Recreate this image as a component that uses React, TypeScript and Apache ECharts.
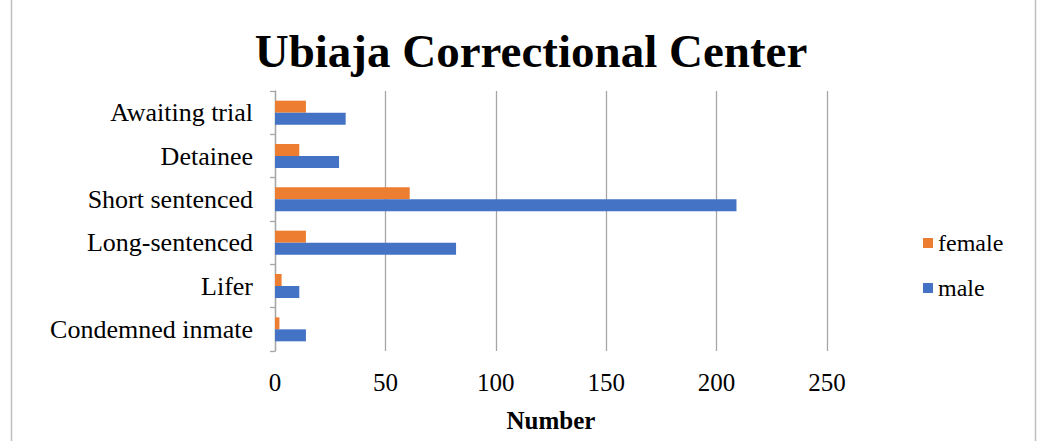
import React, { useEffect, useRef } from "react";
import * as echarts from "echarts";

const categories = ["Condemned inmate", "Lifer", "Long-sentenced", "Short sentenced", "Detainee", "Awaiting trial"];
const femaleValues = [2, 3, 14, 61, 11, 14];
const maleValues = [14, 11, 82, 209, 29, 32];
const seriesNames = ["female", "male"];
const xTicks = { min: 0, max: 250, interval: 50 };
const chartTitle = "Ubiaja Correctional Center";
const xAxisName = "Number";

const FONT = "Liberation Serif, Times New Roman, serif";

export default function App() {
  const ref = useRef<HTMLDivElement>(null);
  useEffect(() => {
    if (!ref.current) return;
    const chart = echarts.init(ref.current, undefined, { renderer: "svg" });
    chart.setOption({
      animation: false,
      backgroundColor: "#ffffff",
      textStyle: { fontFamily: FONT, color: "#000" },
      title: {
        text: chartTitle,
        left: 526,
        textAlign: "center",
        top: 22,
        textStyle: { fontFamily: FONT, fontSize: 47, fontWeight: "bold", color: "#000" },
      },
      legend: {
        orient: "vertical",
        left: 918,
        top: 226,
        itemWidth: 10,
        itemHeight: 10,
        itemGap: 21,
        icon: "rect",
        data: seriesNames,
        textStyle: { fontFamily: FONT, fontSize: 24, color: "#000", fontWeight: "normal" },
      },
      grid: { left: 275, right: 211, top: 91, bottom: 90, containLabel: false },
      xAxis: {
        type: "value",
        min: xTicks.min,
        max: xTicks.max,
        interval: xTicks.interval,
        name: xAxisName,
        nameLocation: "middle",
        nameGap: 57,
        nameTextStyle: { fontFamily: FONT, fontSize: 25, fontWeight: "bold", color: "#000" },
        axisLine: { show: false },
        axisTick: { show: false },
        axisLabel: { fontFamily: FONT, fontSize: 25, color: "#000", margin: 19 },
        splitLine: { show: true, lineStyle: { color: "#a6a6a6", width: 1.3 } },
      },
      yAxis: {
        type: "category",
        data: categories,
        axisLine: { show: true, lineStyle: { color: "#a6a6a6", width: 1.3 } },
        axisTick: { show: true, length: 5, lineStyle: { color: "#a6a6a6", width: 1.3 } },
        axisLabel: { fontFamily: FONT, fontSize: 26, color: "#000", margin: 22 },
      },
      series: [
        {
          name: seriesNames[0],
          type: "bar",
          data: femaleValues,
          barWidth: 12,
          barGap: "0%",
          itemStyle: { color: "#ED7D31" },
        },
        {
          name: seriesNames[1],
          type: "bar",
          data: maleValues,
          barWidth: 12,
          barGap: "0%",
          itemStyle: { color: "#4472C4" },
        },
      ],
      graphic: [
        { type: "line", shape: { x1: 11.5, y1: 0, x2: 11.5, y2: 441 }, style: { stroke: "#bfbfbf", lineWidth: 1.5 } },
        { type: "line", shape: { x1: 1035.5, y1: 0, x2: 1035.5, y2: 441 }, style: { stroke: "#bfbfbf", lineWidth: 1.5 } },
      ],
    });
    return () => chart.dispose();
  }, []);
  return <div ref={ref} style={{ width: 1038, height: 441, position: "absolute", left: 0, top: 0 }} />;
}
